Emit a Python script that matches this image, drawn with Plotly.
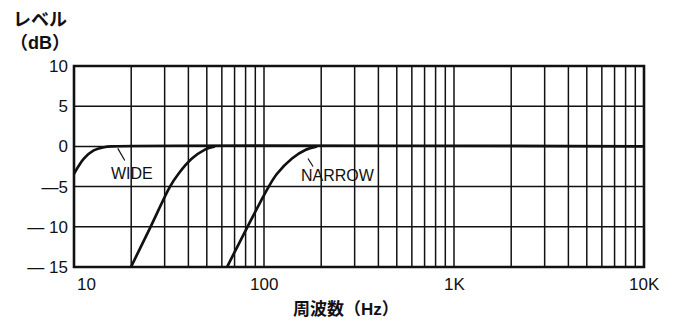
import math
import plotly.graph_objects as go

# Frequency response curves (Hz, dB)
wide_freq = [10.0, 11.3, 12.7, 14.4, 15.8, 10000]
wide_level = [-3.4, -1.5, -0.5, -0.1, 0.0, 0.0]

mid_freq = [19.95, 25.3, 32.0, 35.5, 41.6, 48.9, 55.2]
mid_level = [-15.0, -10.0, -5.0, -3.4, -1.55, -0.4, 0.0]

narrow_freq = [63.9, 81.9, 105.9, 117.1, 140.4, 165.0, 190.1]
narrow_level = [-15.0, -10.0, -5.0, -3.4, -1.5, -0.45, 0.0]

# Axis ticks
x_tick_vals = [10, 100, 1000, 10000]
x_tick_text = ["10", "100", "1K", "10K"]
y_tick_vals = [10, 5, 0, -5, -10, -15]
y_tick_text = ["10", "5", "0", "—5", "— 10", "— 15"]
y_grid_vals = [5, 0, -5, -10]

# Vertical grid: every digit of each decade
grid_mult = [1, 2, 3, 4, 5, 6, 7, 8, 9]
grid_decades = [10, 100, 1000]

# Curve labels with leader lines
labels = [
    dict(text="WIDE", x=20.2, y=-3.4, lx=[17.0, 18.5], ly=[-0.25, -1.75]),
    dict(text="NARROW", x=245, y=-3.6, lx=[170.4, 181.2], ly=[-1.5, -2.5]),
]

INK = "#111111"
FONT = "Liberation Sans, Arial, Noto Sans CJK JP, sans-serif"

fig = go.Figure()

line_style = dict(color=INK, width=2.7, shape="spline", smoothing=0.9)
for fx, fy in [(wide_freq, wide_level), (mid_freq, mid_level), (narrow_freq, narrow_level)]:
    fig.add_trace(go.Scatter(x=fx, y=fy, mode="lines", line=line_style,
                             hoverinfo="skip", showlegend=False))

shapes = []
for d in grid_decades:
    for m in grid_mult:
        f = d * m
        if f <= 10:
            continue
        shapes.append(dict(type="line", xref="x", yref="paper", x0=f, x1=f, y0=0, y1=1,
                           line=dict(color=INK, width=1.5), layer="below"))
for v in y_grid_vals:
    shapes.append(dict(type="line", xref="paper", yref="y", x0=0, x1=1, y0=v, y1=v,
                       line=dict(color=INK, width=1.5), layer="below"))
shapes.append(dict(type="rect", xref="paper", yref="paper", x0=0, x1=1, y0=0, y1=1,
                   line=dict(color=INK, width=2.6)))

annotations = []
for lab in labels:
    shapes.append(dict(type="line", xref="x", yref="y",
                       x0=lab["lx"][0], x1=lab["lx"][1], y0=lab["ly"][0], y1=lab["ly"][1],
                       line=dict(color=INK, width=1.2)))
    annotations.append(dict(text=lab["text"], x=math.log10(lab["x"]), y=lab["y"],
                            xref="x", yref="y", showarrow=False,
                            font=dict(size=16, color=INK, family=FONT)))

for v, t in zip(x_tick_vals, x_tick_text):
    annotations.append(dict(text=t, x=math.log10(v), y=-0.085, xref="x", yref="paper",
                            showarrow=False,
                            xanchor="left" if v == 10 else "center", xshift=1 if v == 10 else 0,
                            yanchor="middle", font=dict(size=17, color=INK, family=FONT)))

# Titles placed in pixel terms, converted to paper coordinates below
W, H = 675, 321
L, R, T, B = 74, 31, 66, 54
pw, ph = W - L - R, H - T - B


def px_to_paper(x, y):
    return (x - L) / pw, 1 - (y - T) / ph


tx, ty = px_to_paper(346, 309)
annotations.append(dict(text="<b>周波数（Hz）</b>", x=tx, y=ty, xref="paper", yref="paper",
                        xanchor="center", yanchor="middle", showarrow=False,
                        font=dict(size=17, color=INK, family=FONT)))
tx, ty = px_to_paper(40, 8)
annotations.append(dict(text="<b>レベル</b><br><b>（dB）</b>", x=tx, y=ty, xref="paper", yref="paper",
                        showarrow=False, align="center", xanchor="center", yanchor="top",
                        font=dict(size=18, color=INK, family=FONT)))

fig.update_layout(
    width=W, height=H,
    margin=dict(l=L, r=R, t=T, b=B),
    paper_bgcolor="white", plot_bgcolor="white",
    font=dict(family=FONT, color=INK, size=16),
    shapes=shapes, annotations=annotations,
    xaxis=dict(type="log", range=[1, 4], showgrid=False, zeroline=False,
               showticklabels=False, ticks="", fixedrange=True),
    yaxis=dict(range=[-15, 10], tickvals=y_tick_vals, ticktext=y_tick_text,
               showgrid=False, zeroline=False, ticks="", ticklabelstandoff=5,
               tickfont=dict(size=17, color=INK, family=FONT), fixedrange=True),
)

fig.write_html("out.html")
